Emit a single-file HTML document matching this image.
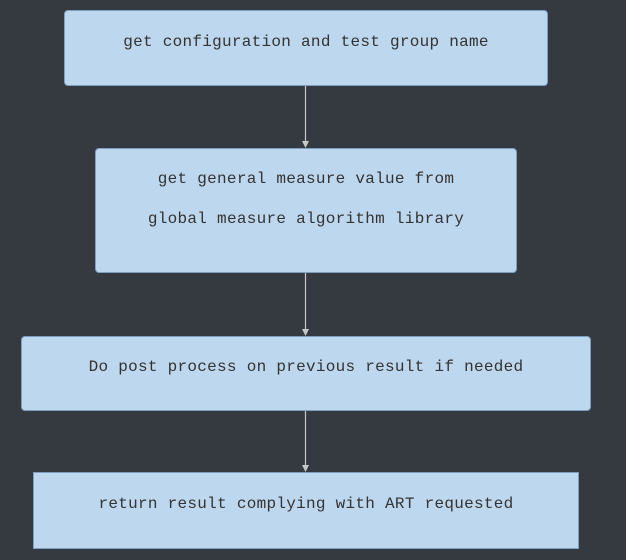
<!DOCTYPE html>
<html><head><style>
body{margin:0;width:626px;height:560px;background:#353a40;position:relative;overflow:hidden;font-family:"Liberation Mono",monospace;font-size:16px;letter-spacing:0.28px;color:#333}
.b{position:absolute;background:#bdd7ee;border:1px solid #7f9fc0;box-sizing:border-box;border-radius:4px;text-align:center}
.t{position:absolute;left:0;right:0;white-space:pre}
</style></head><body>
<div class="b" style="left:64px;top:10px;width:484px;height:76px"><div class="t" style="top:22px">get configuration and test group name</div></div>
<div class="b" style="left:95px;top:148px;width:422px;height:125px"><div class="t" style="top:21px">get general measure value from</div><div class="t" style="top:61px">global measure algorithm library</div></div>
<div class="b" style="left:21px;top:336px;width:570px;height:75px"><div class="t" style="top:21px">Do post process on previous result if needed</div></div>
<div class="b" style="left:33px;top:472px;width:546px;height:77px;border-radius:0"><div class="t" style="top:22px">return result complying with ART requested</div></div>
<svg width="626" height="560" style="position:absolute;left:0;top:0">
<g stroke="#c8c8c8" stroke-width="1.2" fill="#c8c8c8">
<line x1="305.5" y1="86" x2="305.5" y2="142"/><polygon points="302,141 309,141 305.5,148" stroke="none"/>
<line x1="305.5" y1="273" x2="305.5" y2="330"/><polygon points="302,329 309,329 305.5,336" stroke="none"/>
<line x1="305.5" y1="411" x2="305.5" y2="466"/><polygon points="302,465 309,465 305.5,472" stroke="none"/>
</g></svg>
</body></html>
